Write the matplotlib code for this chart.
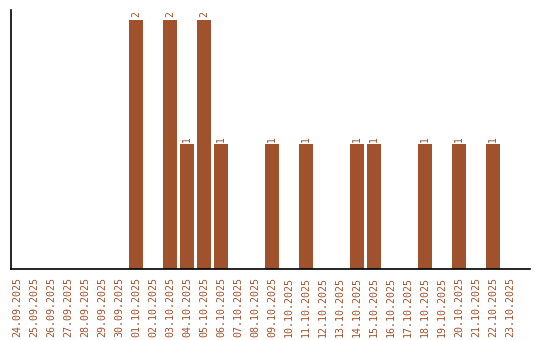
import matplotlib
matplotlib.use("Agg")
import matplotlib.pyplot as plt
import numpy as np

dates = ["24.09.2025", "25.09.2025", "26.09.2025", "27.09.2025", "28.09.2025",
         "29.09.2025", "30.09.2025", "01.10.2025", "02.10.2025", "03.10.2025",
         "04.10.2025", "05.10.2025", "06.10.2025", "07.10.2025", "08.10.2025",
         "09.10.2025", "10.10.2025", "11.10.2025", "12.10.2025", "13.10.2025",
         "14.10.2025", "15.10.2025", "16.10.2025", "17.10.2025", "18.10.2025",
         "19.10.2025", "20.10.2025", "21.10.2025", "22.10.2025", "23.10.2025"]
counts = [0, 0, 0, 0, 0, 0, 0, 2, 0, 2,
          1, 2, 1, 0, 0, 1, 0, 1, 0, 0,
          1, 1, 0, 0, 1, 0, 1, 0, 1, 0]

BROWN = "#A0522D"

fig = plt.figure(figsize=(5.4, 3.4), dpi=100)
ax = fig.add_axes([11 / 540, 71 / 340, 519 / 540, 259 / 340])

x = np.arange(len(dates))
ax.bar(x, counts, width=0.82, color=BROWN)
for xi, c in zip(x, counts):
    if c > 0:
        ax.text(xi, c + 0.02, str(c), rotation=90, ha="center", va="bottom",
                color=BROWN, fontsize=7, family="DejaVu Sans Mono")

ax.set_xlim(-0.353, 30.18)
ax.set_ylim(0, 2.08)
ax.set_xticks(x)
ax.set_xticklabels(dates, rotation=90, color=BROWN, fontsize=7.2,
                   family="DejaVu Sans Mono")
ax.tick_params(axis="x", length=0, pad=6)
ax.set_yticks([])
ax.spines["top"].set_visible(False)
ax.spines["right"].set_visible(False)
ax.spines["left"].set_linewidth(1.2)
ax.spines["bottom"].set_linewidth(1.2)

fig.savefig("out.png", dpi=100)
